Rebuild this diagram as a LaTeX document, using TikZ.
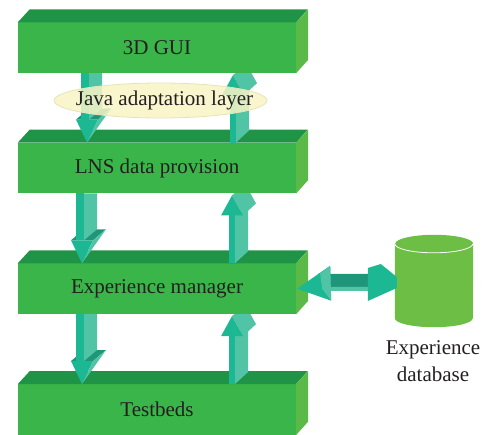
\documentclass[tikz,border=0pt]{standalone}
\usepackage{fontspec}
\setmainfont{Liberation Serif}
\usetikzlibrary{calc}

\definecolor{boxfront}{HTML}{3AB54A}
\definecolor{boxtop}{HTML}{1F9346}
\definecolor{boxside}{HTML}{5BB947}
\definecolor{arrfront}{HTML}{1CB894}
\definecolor{arrlight}{HTML}{50C4A5}
\definecolor{arrdark}{HTML}{1F967A}
\definecolor{dbgreen}{HTML}{6CBE45}
\definecolor{textgray}{HTML}{231F20}
\definecolor{javafill}{HTML}{F8F4C6}

\tikzset{
    layerbox/.style={fill=boxfront, text=textgray, inner sep=0pt, minimum width=278pt,
        minimum height=50.5pt, font=\fontsize{21}{25}\selectfont},
    adapter/.style={fill=javafill, fill opacity=0.85, draw=javafill!85!gray, line width=0.8pt},
    javatext/.style={inner sep=0pt, text=textgray, font=\fontsize{21}{25}\selectfont},
    dblabel/.style={align=center, text=textgray, font=\fontsize{21}{27}\selectfont}
}

\newcommand{\boxfaces}[1]{%
    \fill[boxtop] (#1.north west) -- ++(12, -13) -- ++(278, 0) -- (#1.north east) -- cycle;
    \fill[boxside] (#1.north east) -- ++(12, -13) -- ++(0, 50.5) -- (#1.south east) -- cycle;
}

% upper node, lower node, x of the tip
\newcommand{\arrdn}[3]{%
    \coordinate (s) at (#3, 0 |- #1.south);
    \coordinate (t) at (#3, 0 |- #2.north);
    \fill[arrdark] ($(t)+(-11, -23)$) -- ($(t)+(2, -34)$) -- ($(t)+(24, -34)$) -- ($(t)+(11, -23)$) -- cycle;
    \fill[arrlight] ($(s)+(2, 0)$) -- ($(s)+(15, 0)$) -- ($(t)+(15, -34)$) -- ($(t)+(2, -23)$) -- cycle;
    \fill[arrfront] ($(s)+(-6, 0)$) rectangle ($(t)+(2, -23)$);
    \fill[arrfront] ($(t)+(-11, -23)$) -- ($(t)+(11, -23)$) -- (t) -- cycle;
    \fill[arrlight] ($(t)+(11, -23)$) -- ($(t)+(24, -34)$) -- (t) -- cycle;
}

\newcommand{\arrup}[3]{%
    \coordinate (s) at (#3, 0 |- #2.north);
    \coordinate (t) at ($(#3, 0 |- #1.south)+(0, 2)$);
    \fill[arrlight] ($(s)+(3, 0)$) -- ($(t)+(3, 20)$) -- ($(t)+(16, 8)$) -- ($(s)+(16, -12)$) -- cycle;
    \fill[arrlight] (t) -- ($(t)+(13, -12)$) -- ($(t)+(24, 8)$) -- ($(t)+(11, 20)$) -- cycle;
    \fill[arrfront] ($(s)+(-3, 0)$) rectangle ($(t)+(3, 20)$);
    \fill[arrfront] ($(t)+(-11, 20)$) -- (t) -- ($(t)+(11, 20)$) -- cycle;
}

\begin{document}
\begin{tikzpicture}[x=1pt, y=-1pt]
        \useasboundingbox (0, 0) rectangle (482, 434);

        \node[layerbox] (gui) at (157, 47.7) {3D GUI};
        \boxfaces{gui}
        \node[layerbox] (lns) at (157, 168) {LNS data provision};
        \boxfaces{lns}
        \begin{scope}
            \clip (gui.south west) rectangle (lns.south east);
            \arrdn{gui}{lns}{87}
            \arrup{gui}{lns}{233}
        \end{scope}

        \node[layerbox] (mgr) at (157, 288.7) {Experience manager};
        \boxfaces{mgr}
        \begin{scope}
            \clip (lns.south west) rectangle (mgr.south east);
            \arrdn{lns}{mgr}{82}
            \arrup{lns}{mgr}{232}
        \end{scope}

        \node[layerbox] (tb) at (157, 409.5) {Testbeds};
        \boxfaces{tb}
        \begin{scope}
            \clip (mgr.south west) rectangle (tb.south east);
            \arrdn{mgr}{tb}{82}
            \arrup{mgr}{tb}{232}
        \end{scope}

        \coordinate (javac) at (160.5, 100.5);
        \draw[adapter] (javac) ellipse [x radius=106.5pt, y radius=17.5pt];
        \node[javatext] (java) at ($(javac)+(4, 0)$) {Java adaptation layer};

        % database
        \node[inner sep=0pt, minimum width=78pt, minimum height=92pt] (db) at (434, 281) {};
        \fill[dbgreen] ($(db.north west)+(0, 9)$) -- ($(db.south west)+(0, -9)$)
            arc[start angle=180, end angle=360, x radius=39pt, y radius=9pt]
            -- ($(db.north east)+(0, 9)$)
            arc[start angle=0, end angle=180, x radius=39pt, y radius=9pt] -- cycle;
        \draw[white, line width=0.8pt] ($(db.north west)+(0, 9)$)
            arc[start angle=180, end angle=360, x radius=39pt, y radius=9pt];
        \node[dblabel] (dbtext) at (433, 361.5) {Experience\\database};

        % link manager <-> database
        \fill[arrdark] ($(mgr.east)+(22, -15)$) -- ($(db.west)+(-13, -7)$) -- ($(db.west)+(-13, 6)$)
            -- ($(mgr.east)+(22, -2)$) -- cycle;
        \fill[arrlight] ($(mgr.east)+(16, -2)$) -- ($(db.west)+(-10, 6)$) -- ($(db.west)+(-10, 10)$)
            -- ($(mgr.east)+(16, 2)$) -- cycle;
        \fill[arrfront] ($(mgr.east)+(1, 0)$) -- ($(mgr.east)+(34, -23)$) -- ($(mgr.east)+(35, 12)$) -- cycle;
        \fill[arrlight] ($(mgr.east)+(24, -15)$) -- ($(mgr.east)+(34, -23)$) -- ($(mgr.east)+(35, 12)$)
            -- ($(mgr.east)+(26, 0)$) -- cycle;
        \fill[arrfront] ($(db.west)+(-27, -13)$) -- ($(db.west)+(-14, -17)$) -- ($(db.west)+(2, -4)$)
            -- ($(db.west)+(2, 7)$) -- ($(db.west)+(-27, 20)$) -- cycle;
\end{tikzpicture}
\end{document}
